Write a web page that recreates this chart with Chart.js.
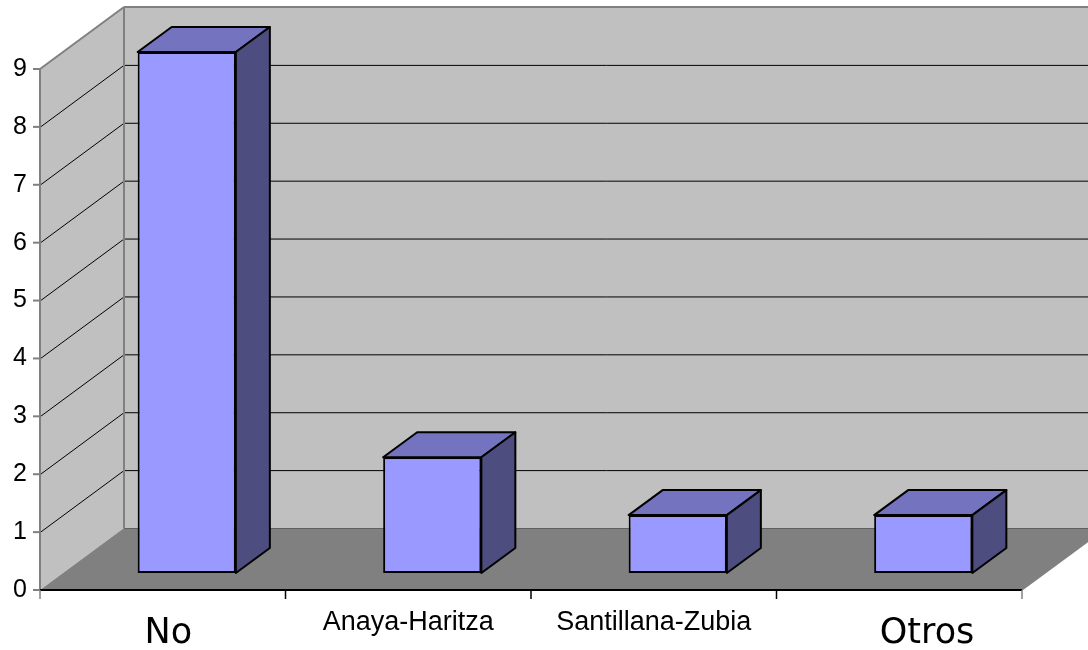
<!DOCTYPE html>
<html>
<head>
<meta charset="utf-8">
<script src="https://cdn.jsdelivr.net/npm/chart.js@4/dist/chart.umd.min.js"></script>
<style>
  body { margin: 0; background: #fff; }
  #wrap { width: 1088px; height: 650px; position: relative; }
</style>
</head>
<body>
<div id="wrap"><canvas id="chart"></canvas></div>
<script>
const categories = ["No", "Anaya-Haritza", "Santillana-Zubia", "Otros"];
const values = [9, 2, 1, 1];
const yTicks = [0, 1, 2, 3, 4, 5, 6, 7, 8, 9];

// the big labels sit a bit off-centre in the original
const labelPad = [" ", "", "", "     "];

// 3D offsets (pixels) relative to the plane the bars' front faces sit on
const FRONT = { x: -24, y: 17 };
const BACK = { x: 60, y: -45 };
const BAR_DEPTH = { x: 34, y: -25 };

function poly(ctx, pts, fill, stroke, lw) {
    ctx.beginPath();
    ctx.moveTo(pts[0][0], pts[0][1]);
    for (let i = 1; i < pts.length; i++) ctx.lineTo(pts[i][0], pts[i][1]);
    ctx.closePath();
    if (fill) { ctx.fillStyle = fill; ctx.fill(); }
    if (stroke) { ctx.strokeStyle = stroke; ctx.lineWidth = lw || 1; ctx.stroke(); }
}

function line(ctx, x1, y1, x2, y2, color, lw) {
    ctx.beginPath();
    ctx.moveTo(x1, y1);
    ctx.lineTo(x2, y2);
    ctx.strokeStyle = color;
    ctx.lineWidth = lw || 1;
    ctx.stroke();
}

const walls3d = {
    id: 'walls3d',
    beforeDraw(chart) {
        const { ctx, chartArea: a, scales } = chart;
        const xs = scales.x, ys = scales.y;
        const fy = v => ys.getPixelForValue(v) + FRONT.y;
        const by = v => ys.getPixelForValue(v) + BACK.y;
        const fl = a.left + FRONT.x, fr = a.right + FRONT.x;
        const bl = a.left + BACK.x, br = a.right + BACK.x;
        const vmax = yTicks[yTicks.length - 1];

        ctx.save();
        ctx.fillStyle = '#fff';
        ctx.fillRect(0, 0, chart.width, chart.height);

        // back wall, left wall, floor
        poly(ctx, [[bl, by(vmax)], [br, by(vmax)], [br, by(0)], [bl, by(0)]], '#c0c0c0');
        poly(ctx, [[fl, fy(0)], [bl, by(0)], [bl, by(vmax)], [fl, fy(vmax)]], '#c0c0c0');
        poly(ctx, [[fl, fy(0)], [fr, fy(0)], [br, by(0)], [bl, by(0)]], '#808080');

        // gridlines
        yTicks.forEach(v => {
            if (v <= 0 || v >= vmax) return;
            ctx.beginPath();
            ctx.moveTo(fl, fy(v) + 0.5);
            ctx.lineTo(bl, by(v) + 0.5);
            ctx.lineTo(br, by(v) + 0.5);
            ctx.strokeStyle = '#000';
            ctx.lineWidth = 1;
            ctx.stroke();
        });

        // wall edges
        line(ctx, fl, fy(vmax), bl, by(vmax), '#808080', 2);
        line(ctx, bl, by(vmax), br, by(vmax), '#808080', 2);
        line(ctx, bl, by(vmax), bl, by(0), '#808080', 2);
        line(ctx, bl, by(0) + 0.5, br, by(0) + 0.5, '#606060', 1);
        line(ctx, fr, fy(0), br, by(0), '#808080', 1.5);

        // value axis on the front plane
        line(ctx, fl, fy(0), fl, fy(vmax), '#808080', 2);
        yTicks.forEach(v => line(ctx, fl - 7, fy(v), fl, fy(v), '#808080', 2));

        // category axis on the front plane
        line(ctx, fl, fy(0), fr, fy(0), '#000', 2);
        const step = xs.getPixelForValue(1) - xs.getPixelForValue(0);
        for (let i = 0; i <= categories.length; i++) {
            const px = xs.getPixelForValue(0) - step / 2 + i * step + FRONT.x;
            const edge = i === 0 || i === categories.length;
            line(ctx, px, fy(0), px, fy(0) + 9, edge ? '#808080' : '#000', 1.5);
        }
        ctx.restore();
    }
};

const bars3d = {
    id: 'bars3d',
    afterDatasetsDraw(chart) {
        const ctx = chart.ctx;
        ctx.save();
        ctx.lineJoin = 'round';
        chart.getDatasetMeta(0).data.forEach(bar => {
            const { x, y, base, width } = bar.getProps(['x', 'y', 'base', 'width'], true);
            const l = x - width / 2, r = x + width / 2;
            const dx = BAR_DEPTH.x, dy = BAR_DEPTH.y;
            poly(ctx, [[l, y], [l + dx, y + dy], [r + dx, y + dy], [r, y]], '#7373bf', '#000', 2);
            poly(ctx, [[r, y], [r + dx, y + dy], [r + dx, base + dy], [r, base]], '#4d4d80', '#000', 2);
        });
        ctx.restore();
    }
};

new Chart(document.getElementById('chart'), {
    type: 'bar',
    data: {
        labels: categories,
        datasets: [{
            data: values,
            backgroundColor: '#9999ff',
            borderColor: '#000',
            borderWidth: 2,
            borderSkipped: false,
            barPercentage: 0.4,
            categoryPercentage: 1
        }]
    },
    options: {
        responsive: true,
        maintainAspectRatio: false,
        animation: false,
        devicePixelRatio: 1,
        layout: { padding: { top: 52, right: 42, left: 0, bottom: 0 } },
        plugins: {
            legend: { display: false },
            tooltip: { enabled: false }
        },
        scales: {
            x: {
                grid: { display: false, drawTicks: false },
                border: { display: false },
                afterFit(scale) { scale.height = 77; },
                ticks: {
                    color: '#000',
                    padding: 33,
                    labelOffset: FRONT.x,
                    maxRotation: 0,
                    autoSkip: false,
                    callback: (value, index) => labelPad[index] + categories[index],
                    font: ctx => (ctx.index === 0 || ctx.index === 3)
                        ? { family: 'DejaVu Sans', size: 35, lineHeight: 1.6 }
                        : { family: 'Liberation Sans', size: 27, lineHeight: 1.2 }
                }
            },
            y: {
                min: 0,
                max: 9,
                grid: { display: false, drawTicks: false },
                border: { display: false },
                afterFit(scale) { scale.width = 64; },
                afterBuildTicks(scale) { scale.ticks = yTicks.map(v => ({ value: v })); },
                ticks: {
                    color: '#000',
                    padding: 37,
                    labelOffset: FRONT.y,
                    font: { family: 'Liberation Sans', size: 25 }
                }
            }
        }
    },
    plugins: [walls3d, bars3d]
});
</script>
</body>
</html>
